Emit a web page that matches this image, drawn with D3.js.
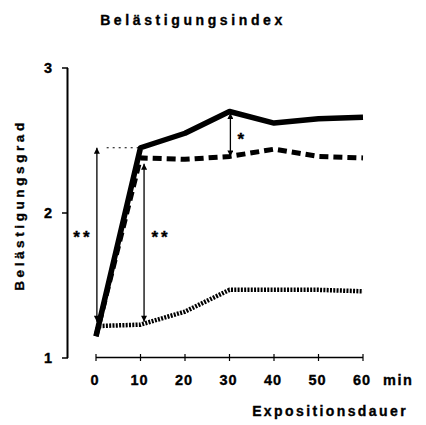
<!DOCTYPE html>
<html><head><meta charset="utf-8">
<script src="https://cdn.jsdelivr.net/npm/d3@7"></script>
<style>
body{margin:0;background:#fff;}
svg{display:block;}
text{font-family:"Liberation Sans",Arial,sans-serif;font-weight:bold;fill:#000;stroke:#000;stroke-width:0.35;}
</style></head><body>
<script>
const minutes = [0,10,20,30,40,50,60];
const solidSeries = [1.15,2.45,2.55,2.70,2.62,2.65,2.66];
const dashedSeries = [1.15,2.38,2.37,2.39,2.44,2.39,2.38];
const dottedSeries = [1.22,1.23,1.32,1.47,1.47,1.47,1.46];
const yTicks = [1,2,3];
const xTicks = [0,10,20,30,40,50,60];
// significance arrows (minute, from value, to value, label)
const arrows = [
  {t:0.2, a:2.45, b:1.25, label:"**", side:"left"},
  {t:10.8, a:2.34, b:1.25, label:"**", side:"right"},
  {t:30.2, a:2.69, b:2.39, label:"*", side:"right"}
];
const refLine = {t0:2.4, t1:9.6, v:2.45};

const W=426,H=425;
const svg=d3.select("body").append("svg").attr("width",W).attr("height",H);
const x=d3.scaleLinear().domain([0,60]).range([96,363]);
const y=d3.scaleLinear().domain([1,3]).range([358,68]);

svg.append("defs").append("marker").attr("id","ah")
  .attr("viewBox","0 0 10 10").attr("refX",10).attr("refY",5)
  .attr("markerWidth",10).attr("markerHeight",6).attr("markerUnits","userSpaceOnUse")
  .attr("orient","auto-start-reverse")
  .append("path").attr("d","M0,0L10,5L0,10Z").attr("fill","#000");

// title
svg.append("text").attr("x",193).attr("y",25).attr("text-anchor","middle")
  .attr("font-size",14).attr("letter-spacing",3.6).text("Belästigungsindex");

// y axis
const gy=svg.append("g");
gy.append("line").attr("x1",67.5).attr("x2",67.5).attr("y1",y(3)).attr("y2",y(1)).attr("stroke","#000").attr("stroke-width",2);
yTicks.forEach(v=>{
  gy.append("line").attr("x1",62).attr("x2",68).attr("y1",y(v)).attr("y2",y(v)).attr("stroke","#000").attr("stroke-width",1.5);
  gy.append("text").attr("x",48).attr("y",y(v)+5).attr("text-anchor","middle").attr("font-size",14.5).text(v);
});
svg.append("text").attr("transform",`translate(24,${205}) rotate(-90)`).attr("text-anchor","middle")
  .attr("font-size",13.5).attr("letter-spacing",3.6).text("Belästigungsgrad");

// x axis
const gx=svg.append("g");
gx.append("line").attr("x1",x(0)).attr("x2",x(60)).attr("y1",357.5).attr("y2",357.5).attr("stroke","#000").attr("stroke-width",1.5);
xTicks.forEach(v=>{
  gx.append("line").attr("x1",x(v)).attr("x2",x(v)).attr("y1",354).attr("y2",361).attr("stroke","#000").attr("stroke-width",1.2);
  gx.append("text").attr("x",x(v)-1).attr("y",385).attr("text-anchor","middle").attr("font-size",14.5).attr("letter-spacing",1).text(v);
});
svg.append("text").attr("x",383).attr("y",385).attr("text-anchor","start").attr("font-size",14.5).attr("letter-spacing",1.5).text("min");
svg.append("text").attr("x",408).attr("y",416).attr("text-anchor","end").attr("font-size",14).attr("letter-spacing",2.4).text("Expositionsdauer");

// lines
const line=d3.line().x((d,i)=>x(minutes[i])).y(d=>y(d));
svg.append("path").datum(dottedSeries).attr("d",line).attr("fill","none").attr("stroke","#000")
  .attr("stroke-width",4.5).attr("stroke-dasharray","2,1.3");
svg.append("path").datum(dashedSeries).attr("d",line).attr("fill","none").attr("stroke","#000")
  .attr("stroke-width",5).attr("stroke-dasharray","9,5");
svg.append("path").datum(solidSeries).attr("d",line).attr("fill","none").attr("stroke","#000")
  .attr("stroke-width",5.5).attr("stroke-linejoin","round");

// reference dotted line
svg.append("line").attr("x1",x(refLine.t0)).attr("x2",x(refLine.t1)).attr("y1",y(refLine.v)).attr("y2",y(refLine.v))
  .attr("stroke","#000").attr("stroke-width",1).attr("stroke-dasharray","2,4");

// arrows
arrows.forEach(a=>{
  svg.append("line").attr("x1",x(a.t)).attr("x2",x(a.t)).attr("y1",y(a.a)).attr("y2",y(a.b))
    .attr("stroke","#000").attr("stroke-width",1.3)
    .attr("marker-start","url(#ah)").attr("marker-end","url(#ah)");
  const ym=(y(a.a)+y(a.b))/2;
  const lx = a.side==="left"? x(a.t)-14 : x(a.t)+ (a.label.length>1?17:12);
  svg.append("text").attr("x",lx).attr("y", a.label.length>1? 243 : ym+10).attr("text-anchor","middle")
    .attr("font-size",17).attr("letter-spacing",3).text(a.label);
});
</script>
</body></html>
